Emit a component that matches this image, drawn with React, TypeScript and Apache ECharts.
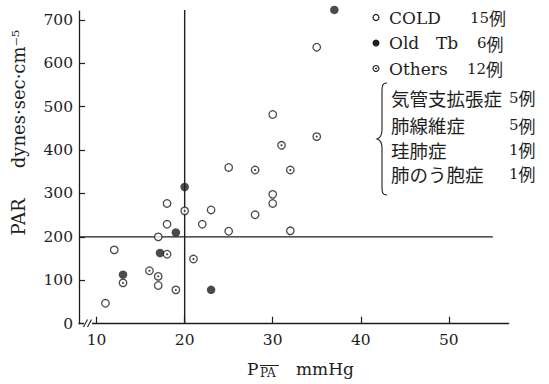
import React, { useEffect, useRef } from "react";
import * as echarts from "echarts";

// ---- data ----
const coldX = [11, 12, 17, 17, 18, 18, 22, 23, 25, 25, 28, 30, 30, 30, 32, 35];
const coldY = [47, 170, 88, 200, 229, 277, 229, 262, 213, 360, 251, 277, 298, 482, 214, 637];
const oldTbX = [13, 17.2, 19, 20, 23, 37];
const oldTbY = [113, 163, 210, 315, 78, 723];
const othersX = [13, 16, 17, 18, 19, 20, 21, 28, 31, 32, 35];
const othersY = [94, 122, 109, 160, 78, 260, 149, 354, 411, 354, 431];

const xTicks = [10, 20, 30, 40, 50];
const yTicks = [0, 100, 200, 300, 400, 500, 600, 700];
const yTickMarks = [100, 200, 300, 400, 500, 600, 700];

const vLineX = [20, 20];
const vLineY = [0, 723];
const hLineX = [8, 55];
const hLineY = [200, 200];

const legendMain = [
  { label: "COLD", count: "15", extra: "" },
  { label: "Old", count: "6", extra: "Tb" },
  { label: "Others", count: "12", extra: "" },
];
const subNames = ["気管支拡張症", "肺線維症", "珪肺症", "肺のう胞症"];
const subCounts = ["5", "5", "1", "1"];

const INK = "#1e1e1e";
const SERIF = '"DejaVu Serif", "Liberation Serif", serif';
const JP = '"Noto Sans CJK JP", sans-serif';

const pairs = (xs: number[], ys: number[]) => xs.map((x, i) => [x, ys[i]]);

let braceRegistered = false;

export default function App() {
  const ref = useRef<HTMLDivElement>(null);

  useEffect(() => {
    if (!ref.current) return;
    if (!braceRegistered) {
      echarts.graphic.registerShape(
        "brace",
        echarts.graphic.extendPath(
          "M10,0 C5,0 5,3 5,10 L5,47 C5,52 3,55 0,56 C3,57 5,60 5,65 L5,102 C5,109 5,112 10,112",
          {}
        )
      );
      braceRegistered = true;
    }
    const chart = echarts.init(ref.current, null, { renderer: "svg" });

    const rowY = [17.5, 43, 68.5];
    const subY = [97.5, 125, 149.5, 173.5];

    const graphics: any[] = [];
    // legend markers
    graphics.push({ type: "circle", shape: { cx: 376, cy: rowY[0], r: 3 }, style: { fill: "#fff", stroke: INK, lineWidth: 1.2 } });
    graphics.push({ type: "circle", shape: { cx: 376, cy: rowY[1], r: 3.5 }, style: { fill: INK } });
    graphics.push({ type: "circle", shape: { cx: 376, cy: rowY[2], r: 3 }, style: { fill: "#fff", stroke: INK, lineWidth: 1.1 } });
    graphics.push({ type: "circle", shape: { cx: 376, cy: rowY[2], r: 0.9 }, style: { fill: INK } });
    // legend texts
    const countX = [470, 477, 467];
    legendMain.forEach((row, i) => {
      graphics.push({ type: "text", x: 389, y: rowY[i], style: { text: row.label, font: `17px ${SERIF}`, fill: INK, align: "left", verticalAlign: "middle", lineHeight: 20 } });
      if (row.extra) {
        graphics.push({ type: "text", x: 436, y: rowY[i], style: { text: row.extra, font: `17px ${SERIF}`, fill: INK, align: "left", verticalAlign: "middle", lineHeight: 20 } });
      }
      graphics.push({
        type: "text", x: countX[i], y: rowY[i],
        style: {
          text: `{n|${row.count}}{j|例}`, align: "left", verticalAlign: "middle",
          rich: { n: { font: `15px ${SERIF}`, fill: INK, lineHeight: 20 }, j: { font: `17px ${JP}`, fill: INK, lineHeight: 20 } },
        },
      });
    });
    subNames.forEach((nm, i) => {
      graphics.push({ type: "text", x: 391, y: subY[i], style: { text: nm, font: `18.5px ${JP}`, fill: INK, align: "left", verticalAlign: "middle", lineHeight: 20 } });
      graphics.push({
        type: "text", x: 509, y: subY[i],
        style: {
          text: `{n|${subCounts[i]}}{j|例}`, align: "left", verticalAlign: "middle",
          rich: { n: { font: `15px ${SERIF}`, fill: INK, lineHeight: 20 }, j: { font: `17px ${JP}`, fill: INK, lineHeight: 20 } },
        },
      });
    });
    graphics.push({ type: "brace", x: 377, y: 83, scaleX: 1, scaleY: 1, style: { stroke: INK, fill: "none", lineWidth: 1.1 } });

    // axis titles
    graphics.push({
      type: "text", x: 18, y: 217, rotation: Math.PI / 2,
      style: { text: "PAR", font: `18px ${SERIF}`, fill: INK, align: "center", verticalAlign: "middle" },
    });
    graphics.push({
      type: "text", x: 18, y: 99, rotation: Math.PI / 2,
      style: { text: "dynes·sec·cm⁻⁵", font: `18px ${SERIF}`, fill: INK, align: "center", verticalAlign: "middle" },
    });
    graphics.push({ type: "text", x: 247, y: 369, style: { text: "P", font: `17px ${SERIF}`, fill: INK, align: "left", verticalAlign: "middle" } });
    graphics.push({ type: "text", x: 260, y: 373, style: { text: "PA", font: `12px ${SERIF}`, fill: INK, align: "left", verticalAlign: "middle" } });
    graphics.push({ type: "line", shape: { x1: 260, y1: 365.5, x2: 279, y2: 365.5 }, style: { stroke: INK, lineWidth: 1 } });
    graphics.push({ type: "text", x: 296, y: 369, style: { text: "mmHg", font: `17px ${SERIF}`, fill: INK, align: "left", verticalAlign: "middle" } });

    // axis break
    graphics.push({ type: "rect", shape: { x: 84, y: 321, width: 8, height: 5 }, style: { fill: "#fff" }, z: 100 });
    graphics.push({ type: "line", shape: { x1: 83.5, y1: 327, x2: 87.5, y2: 319.5 }, style: { stroke: INK, lineWidth: 1.1 }, z: 101 });
    graphics.push({ type: "line", shape: { x1: 87.5, y1: 327, x2: 91.5, y2: 319.5 }, style: { stroke: INK, lineWidth: 1.1 }, z: 101 });

    const ringStyle = { color: "#fff", borderColor: INK, borderWidth: 1.3 };

    chart.setOption({
      animation: false,
      backgroundColor: "#fff",
      grid: { left: 79, top: 11.2, width: 429.7, height: 312.5, containLabel: false },
      xAxis: {
        type: "value", min: 8, max: 56.8,
        axisLine: { show: true, lineStyle: { color: INK, width: 1.3 } },
        axisTick: { show: true, inside: true, length: 7, lineStyle: { color: INK, width: 1.2 }, customValues: xTicks },
        axisLabel: { customValues: xTicks, fontFamily: SERIF, fontSize: 15.5, color: INK, margin: 8 },
        splitLine: { show: false },
      },
      yAxis: {
        type: "value", min: 0, max: 720,
        axisLine: { show: true, lineStyle: { color: INK, width: 1.3 } },
        axisTick: { show: true, inside: true, length: 6, lineStyle: { color: INK, width: 1.2 }, customValues: yTickMarks },
        axisLabel: { customValues: yTicks, fontFamily: SERIF, fontSize: 15.5, color: INK, margin: 6 },
        splitLine: { show: false },
      },
      series: [
        { type: "line", data: pairs(vLineX, vLineY), symbol: "none", clip: false, silent: true, lineStyle: { color: INK, width: 1.4 }, z: 1 },
        { type: "line", data: pairs(hLineX, hLineY), symbol: "none", clip: false, silent: true, lineStyle: { color: INK, width: 1.4 }, z: 1 },
        { name: "COLD", type: "scatter", data: pairs(coldX, coldY), symbol: "circle", symbolSize: 7.5, clip: false, itemStyle: ringStyle, z: 3 },
        { name: "Others", type: "scatter", data: pairs(othersX, othersY), symbol: "circle", symbolSize: 7.5, clip: false, itemStyle: ringStyle, z: 3 },
        { name: "OthersDot", type: "scatter", data: pairs(othersX, othersY), symbol: "circle", symbolSize: 2.2, clip: false, itemStyle: { color: INK }, z: 4 },
        { name: "Old Tb", type: "scatter", data: pairs(oldTbX, oldTbY), symbol: "circle", symbolSize: 8.5, clip: false, itemStyle: { color: INK }, z: 5 },
      ],
      graphic: graphics,
    });

    return () => chart.dispose();
  }, []);

  return <div ref={ref} style={{ position: "absolute", left: 0, top: 0, width: 549, height: 384 }} />;
}
